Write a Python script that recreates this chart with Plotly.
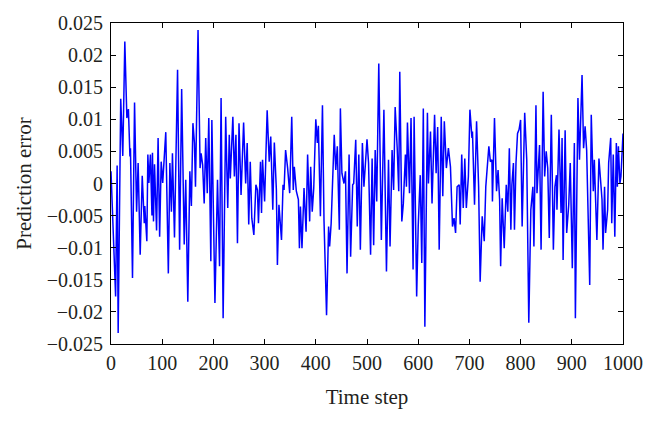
import plotly.graph_objects as go

time_step = [0, 9, 12, 14, 19, 23, 27, 31, 34, 37, 38, 42, 46, 50, 53, 57, 61, 65, 66, 70,
             72, 74, 77, 80, 81, 83, 85, 89, 92, 95, 98, 101, 107, 112, 115, 118, 120, 124, 130, 134,
             138, 143, 146, 150, 154, 157, 160, 163, 165, 170, 174, 176, 179, 182, 185, 188, 191, 195, 197, 203,
             208, 212, 215, 219, 224, 228, 231, 233, 238, 241, 244, 247, 250, 254, 259, 263, 266, 269, 272, 275,
             279, 283, 286, 288, 292, 294, 296, 300, 305, 309, 312, 316, 319, 323, 325, 328, 333, 336, 338, 341,
             345, 349, 353, 356, 358, 362, 366, 368, 370, 373, 377, 381, 384, 388, 390, 393, 396, 400, 403, 405,
             409, 413, 416, 421, 425, 427, 430, 432, 436, 439, 442, 446, 448, 451, 455, 458, 461, 465, 468, 472,
             474, 478, 481, 484, 487, 491, 494, 500, 503, 507, 510, 513, 516, 519, 523, 528, 533, 538, 542, 545,
             549, 552, 555, 559, 562, 564, 568, 571, 575, 577, 579, 583, 586, 590, 592, 597, 600, 604, 607, 610,
             613, 618, 620, 624, 627, 632, 635, 638, 641, 645, 648, 651, 655, 659, 663, 667, 670, 673, 676, 680,
             682, 685, 688, 691, 694, 698, 701, 705, 706, 710, 714, 718, 721, 725, 729, 732, 738, 741, 744, 745,
             749, 753, 756, 759, 761, 764, 768, 772, 775, 778, 781, 783, 786, 788, 791, 794, 797, 800, 803, 808,
             812, 816, 820, 824, 826, 830, 832, 837, 840, 844, 847, 850, 853, 856, 860, 864, 867, 870, 871, 875,
             879, 881, 883, 887, 890, 894, 897, 901, 905, 907, 912, 915, 920, 923, 926, 929, 931, 935, 938, 942,
             944, 947, 949, 953, 956, 959, 961, 964, 966, 970, 972, 976, 978, 981, 984, 987, 989, 991, 994, 996,
             1000]
prediction_error = [0.0019, -0.0176, 0.0028, -0.0233, 0.0132, 0.0043, 0.0221, 0.0102, 0.0116, 0.0042, 0.0055, -0.0147, 0.0126, -0.0044, 0.0032, -0.0111, 0.0012, -0.0062, -0.0035, -0.0090,
                    0.0045, 0.0001, 0.0045, -0.0050, 0.0048, -0.0059, 0.0030, -0.0073, 0.0071, -0.0083, 0.0034, 0.0001, 0.0080, -0.0140, 0.0032, -0.0044, 0.0047, -0.0084, 0.0177, -0.0103,
                    0.0147, -0.0095, 0.0006, -0.0184, 0.0019, -0.0035, 0.0094, 0.0063, -0.0005, 0.0239, 0.0024, 0.0047, 0.0029, -0.0031, 0.0071, -0.0015, 0.0102, -0.0121, 0.0099, -0.0186,
                    0.0006, -0.0129, 0.0133, -0.0210, 0.0104, -0.0038, 0.0076, 0.0008, 0.0104, 0.0011, 0.0076, -0.0093, 0.0094, -0.0018, 0.0095, 0.0000, 0.0063, -0.0064, 0.0034, -0.0054,
                    -0.0080, -0.0002, -0.0010, -0.0062, 0.0034, -0.0046, 0.0037, -0.0028, 0.0114, 0.0034, 0.0073, -0.0041, 0.0064, -0.0010, -0.0127, -0.0033, -0.0088, -0.0002, -0.0010, 0.0052,
                    0.0024, -0.0015, 0.0104, -0.0010, 0.0026, -0.0012, -0.0025, -0.0101, -0.0036, -0.0101, -0.0007, -0.0075, 0.0045, -0.0059, 0.0026, -0.0044, -0.0007, 0.0100, 0.0063, 0.0090,
                    -0.0051, 0.0122, -0.0057, -0.0205, -0.0067, -0.0098, -0.0062, -0.0005, 0.0076, 0.0021, 0.0058, -0.0072, 0.0117, 0.0016, 0.0000, 0.0019, -0.0140, 0.0045, -0.0114, -0.0002,
                    0.0000, 0.0068, -0.0067, 0.0045, -0.0103, 0.0063, -0.0005, 0.0069, 0.0032, -0.0111, 0.0039, -0.0096, 0.0052, -0.0028, 0.0187, -0.0088, 0.0115, -0.0137, 0.0037, -0.0098,
                    0.0052, -0.0010, 0.0119, 0.0055, -0.0012, 0.0174, -0.0059, -0.0031, 0.0045, -0.0005, 0.0095, -0.0015, 0.0102, -0.0134, 0.0104, -0.0176, -0.0067, 0.0013, -0.0124, 0.0117,
                    -0.0223, 0.0110, 0.0000, 0.0081, -0.0031, 0.0107, 0.0016, 0.0088, -0.0103, 0.0104, -0.0020, 0.0097, 0.0024, 0.0055, 0.0026, -0.0067, -0.0054, -0.0077, -0.0005, -0.0002,
                    -0.0064, 0.0045, -0.0038, 0.0039, -0.0038, 0.0011, 0.0115, 0.0071, 0.0081, -0.0033, 0.0097, -0.0005, -0.0153, -0.0051, -0.0090, -0.0005, 0.0058, 0.0034, 0.0037, -0.0028,
                    0.0102, -0.0012, 0.0021, -0.0025, -0.0129, -0.0023, -0.0101, -0.0002, -0.0044, 0.0055, -0.0072, -0.0002, 0.0032, -0.0072, 0.0032, 0.0078, 0.0084, 0.0099, -0.0067, 0.0110,
                    0.0037, -0.0217, -0.0041, -0.0005, -0.0098, 0.0122, -0.0015, 0.0060, -0.0103, 0.0143, 0.0011, 0.0050, 0.0024, -0.0085, 0.0107, -0.0103, -0.0005, 0.0013, -0.0041, 0.0084,
                    -0.0046, 0.0071, -0.0119, 0.0083, -0.0077, -0.0033, 0.0032, -0.0132, 0.0063, -0.0210, 0.0133, 0.0037, 0.0169, 0.0055, 0.0089, 0.0052, -0.0033, -0.0158, 0.0107, -0.0012,
                    0.0037, -0.0031, -0.0088, 0.0039, 0.0011, -0.0025, -0.0103, -0.0005, -0.0077, -0.0041, 0.0032, 0.0071, -0.0062, 0.0045, -0.0083, 0.0063, -0.0005, 0.0058, 0.0000, 0.0011,
                    0.0078]

x_ticks = [0, 100, 200, 300, 400, 500, 600, 700, 800, 900, 1000]
y_ticks = [-0.025, -0.02, -0.015, -0.01, -0.005, 0, 0.005, 0.01, 0.015, 0.02, 0.025]
y_tick_text = ["\u22120.025", "\u22120.02", "\u22120.015", "\u22120.01", "\u22120.005", "0",
               "0.005", "0.01", "0.015", "0.02", "0.025"]

FONT = "Liberation Serif"
TEXT_COLOR = "#231f20"

fig = go.Figure()
fig.add_trace(go.Scatter(x=time_step, y=prediction_error, mode="lines",
                         line=dict(color="#0000FF", width=1.5), showlegend=False))

axis_common = dict(showline=True, linecolor="black", linewidth=1, mirror="ticks",
                   ticks="inside", ticklen=5, tickcolor="black", tickwidth=1,
                   showgrid=False, zeroline=False, automargin=False,
                   tickfont=dict(family=FONT, size=20, color=TEXT_COLOR))

fig.update_xaxes(range=[0, 1000], tickvals=x_ticks, ticktext=[str(v) for v in x_ticks],
                 title=dict(text="Time step", font=dict(family=FONT, size=21, color=TEXT_COLOR), standoff=16),
                 ticklabelstandoff=1, **axis_common)
fig.update_yaxes(range=[-0.025, 0.025], tickvals=y_ticks, ticktext=y_tick_text,
                 title=dict(text="Prediction error", font=dict(family=FONT, size=21, color=TEXT_COLOR), standoff=9),
                 ticklabelstandoff=3, **axis_common)

fig.update_layout(width=660, height=423, margin=dict(l=103, r=45, t=15, b=87),
                  paper_bgcolor="white", plot_bgcolor="white")

fig.write_html("out.html")
